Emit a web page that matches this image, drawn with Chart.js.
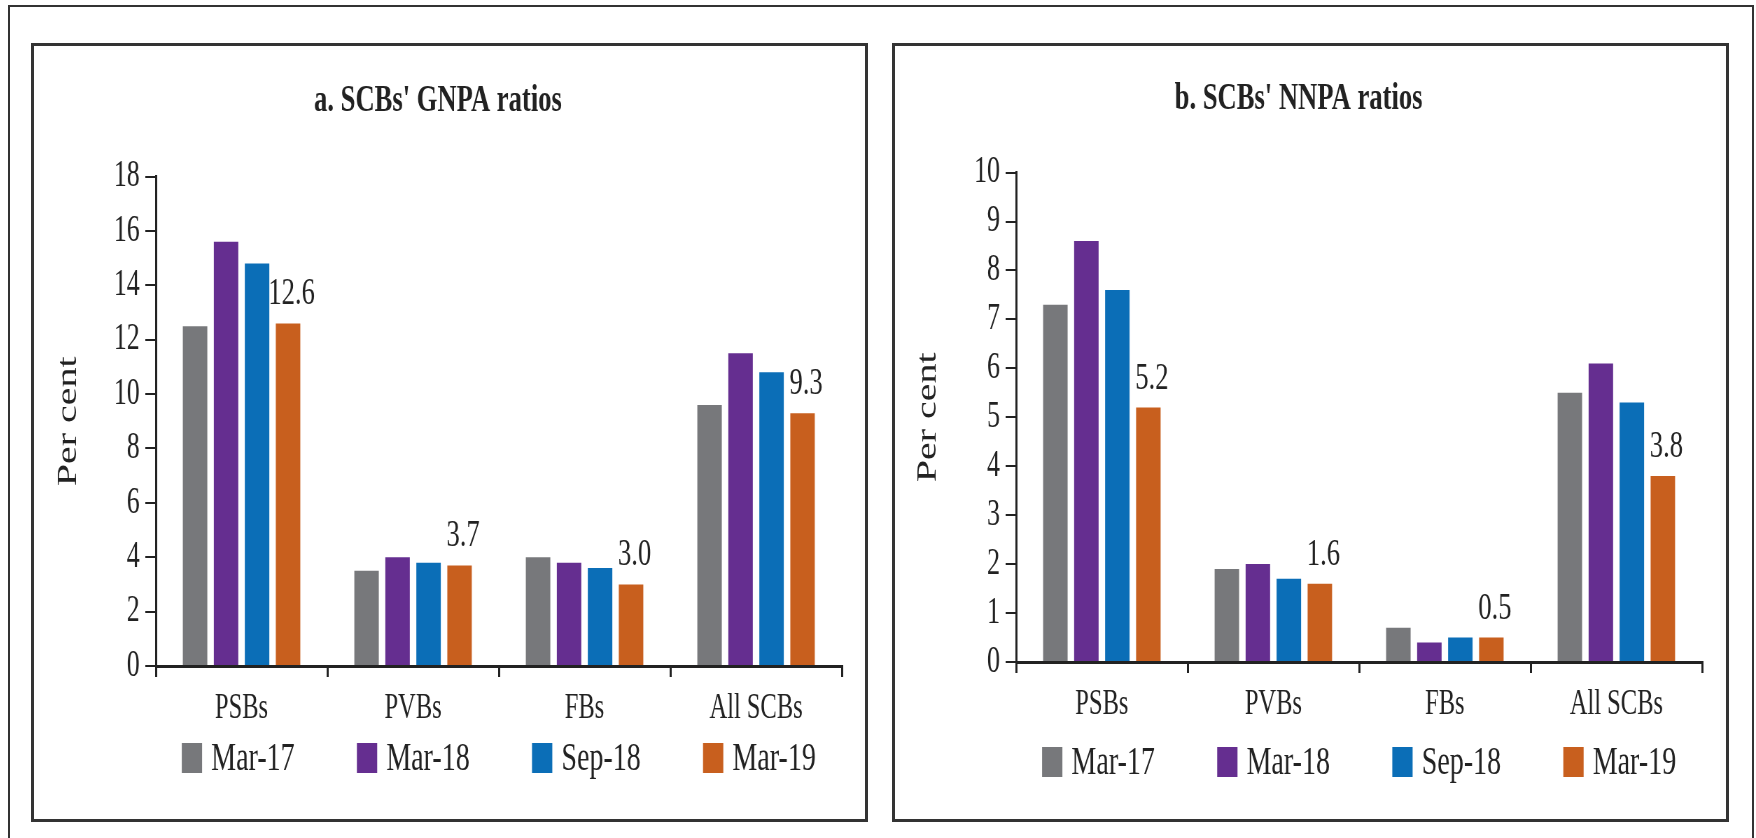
<!DOCTYPE html>
<html>
<head>
<meta charset="utf-8">
<script src="https://cdn.jsdelivr.net/npm/chart.js@4.4.0/dist/chart.umd.min.js"></script>
<style>
  html, body { margin: 0; padding: 0; background: #fff; overflow: hidden; }
  body { width: 1756px; height: 838px; position: relative; }
  #frame { position: absolute; left: 8px; top: 5px; width: 1746px; height: 900px; border: 2px solid #333; box-sizing: border-box; }
  .panel { position: absolute; top: 43px; width: 837px; height: 779px; border: 3px solid #333; box-sizing: border-box; background: #fff; }
  #panel-a { left: 31px; }
  #panel-b { left: 892px; }
  /* the original figure is squeezed sideways, so the canvas is drawn wide and scaled down */
  .panel canvas { position: absolute; left: 0; top: 0; transform: scaleX(0.7); transform-origin: 0 0; }
</style>
</head>
<body>
<div id="frame"></div>
<div class="panel" id="panel-a"><canvas id="chart-a" width="1187" height="773"></canvas></div>
<div class="panel" id="panel-b"><canvas id="chart-b" width="1187" height="773"></canvas></div>
<script>
const categories = ["PSBs", "PVBs", "FBs", "All SCBs"]
const seriesNames = ["Mar-17", "Mar-18", "Sep-18", "Mar-19"]

const gnpaMar17 = [12.5, 3.5, 4.0, 9.6]
const gnpaMar18 = [15.6, 4.0, 3.8, 11.5]
const gnpaSep18 = [14.8, 3.8, 3.6, 10.8]
const gnpaMar19 = [12.6, 3.7, 3.0, 9.3]

const nnpaMar17 = [7.3, 1.9, 0.7, 5.5]
const nnpaMar18 = [8.6, 2.0, 0.4, 6.1]
const nnpaSep18 = [7.6, 1.7, 0.5, 5.3]
const nnpaMar19 = [5.2, 1.6, 0.5, 3.8]

const gnpaTicks = [0, 2, 4, 6, 8, 10, 12, 14, 16, 18]
const nnpaTicks = [0, 1, 2, 3, 4, 5, 6, 7, 8, 9, 10]

const seriesColors = ["#77787b", "#652e90", "#0b6eb7", "#c85f1e"]
const ink = "#222"
const family = "'Liberation Serif', serif"

Chart.defaults.font.family = family
Chart.defaults.color = ink

// legend row under the axis, centred on the plot area
const legendPlugin = {
    id: "bottomLegend",
    afterDraw(chart, args, opts) {
        const ctx = chart.ctx
        const area = chart.chartArea
        ctx.save()
        ctx.font = `${opts.size}px ${family}`
        const items = chart.data.datasets.map(ds => ({
            text: ds.label,
            color: ds.backgroundColor,
            w: ctx.measureText(ds.label).width
        }))
        const total = items.reduce((s, it) => s + opts.boxW + opts.textGap + it.w, 0) + opts.gap * (items.length - 1)
        let x = (area.left + area.right) / 2 - total / 2
        ctx.textBaseline = "middle"
        ctx.textAlign = "left"
        for (const it of items) {
            ctx.fillStyle = it.color
            ctx.fillRect(x, opts.y - opts.boxH / 2, opts.boxW, opts.boxH)
            ctx.fillStyle = ink
            ctx.fillText(it.text, x + opts.boxW + opts.textGap, opts.y + 1)
            x += opts.boxW + opts.textGap + it.w + opts.gap
        }
        ctx.restore()
    }
}

// value labels over the last series only
const labelPlugin = {
    id: "lastLabels",
    afterDatasetsDraw(chart) {
        const ctx = chart.ctx
        const last = chart.data.datasets.length - 1
        const ds = chart.data.datasets[last]
        ctx.save()
        ctx.font = `38px ${family}`
        ctx.fillStyle = ink
        ctx.textAlign = "center"
        ctx.textBaseline = "alphabetic"
        chart.getDatasetMeta(last).data.forEach((bar, i) => {
            ctx.fillText(ds.data[i].toFixed(1), bar.x + 5, bar.y - 19)
        })
        ctx.restore()
    }
}

function makeChart(id, o) {
    return new Chart(document.getElementById(id), {
        type: "bar",
        data: {
            labels: categories,
            datasets: o.values.map((vals, i) => ({
                label: seriesNames[i],
                data: vals,
                backgroundColor: seriesColors[i],
                categoryPercentage: 0.723,
                barPercentage: 0.79
            }))
        },
        options: {
            responsive: false,
            animation: false,
            layout: { padding: { left: 0, right: o.padRight, top: 0, bottom: o.padBottom } },
            plugins: {
                legend: { display: false },
                tooltip: { enabled: false },
                title: {
                    display: true,
                    text: o.title,
                    color: ink,
                    font: { size: 38, weight: "bold" },
                    padding: { top: o.titleTop, bottom: o.titleBottom }
                },
                bottomLegend: { y: o.legendY, size: 40, boxW: 29, boxH: 30, textGap: 13, gap: 89 }
            },
            scales: {
                x: {
                    grid: { drawOnChartArea: false, offset: true, tickLength: 11, lineWidth: 3, color: ink },
                    border: { color: ink, width: 3 },
                    ticks: { color: ink, font: { size: 35 }, padding: 11, maxRotation: 0 },
                    afterFit: s => { s.height = 60 }
                },
                y: {
                    min: 0,
                    max: o.ticks[o.ticks.length - 1],
                    afterBuildTicks: s => { s.ticks = o.ticks.map(v => ({ value: v })) },
                    grid: { drawOnChartArea: false, tickLength: 15, lineWidth: 2, color: ink },
                    border: { color: ink, width: 3 },
                    ticks: { color: ink, font: { size: 37 }, padding: 8 },
                    title: { display: true, text: "Per cent", color: ink, font: { size: 40 }, padding: { top: o.yTitlePad, bottom: 0 } },
                    afterFit: s => { s.width = o.axisX }
                }
            }
        },
        plugins: [legendPlugin, labelPlugin]
    })
}

makeChart("chart-a", {
    title: "a. SCBs' GNPA ratios",
    values: [gnpaMar17, gnpaMar18, gnpaSep18, gnpaMar19],
    ticks: gnpaTicks,
    axisX: 174,
    padRight: 33,
    padBottom: 93,
    titleTop: 32,
    titleBottom: 53,
    yTitlePad: 25,
    legendY: 712
})

makeChart("chart-b", {
    title: "b. SCBs' NNPA ratios",
    values: [nnpaMar17, nnpaMar18, nnpaSep18, nnpaMar19],
    ticks: nnpaTicks,
    axisX: 173,
    padRight: 34,
    padBottom: 97,
    titleTop: 30,
    titleBottom: 51,
    yTitlePad: 23,
    legendY: 716
})
</script>
</body>
</html>
